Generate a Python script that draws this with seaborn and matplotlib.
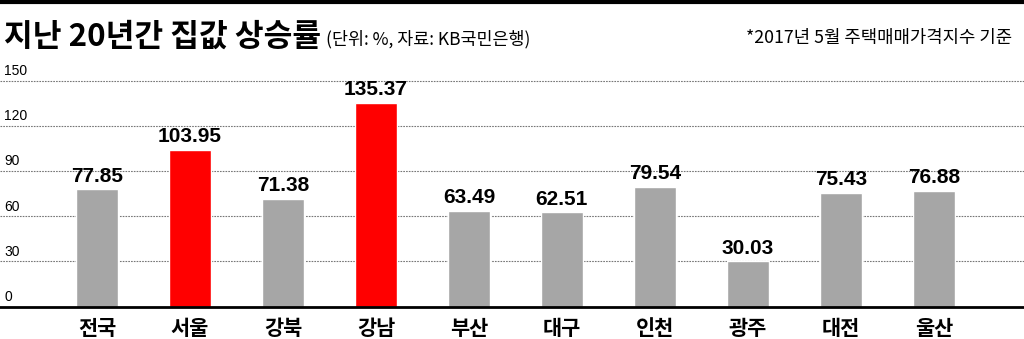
import matplotlib
matplotlib.use("Agg")
import matplotlib.pyplot as plt
import seaborn as sns
from matplotlib.lines import Line2D

categories = ["전국", "서울", "강북", "강남", "부산", "대구", "인천", "광주", "대전", "울산"]
values = [77.85, 103.95, 71.38, 135.37, 63.49, 62.51, 79.54, 30.03, 75.43, 76.88]
value_labels = ["77.85", "103.95", "71.38", "135.37", "63.49", "62.51", "79.54", "30.03", "75.43", "76.88"]
highlight = ["서울", "강남"]
yticks = [0, 30, 60, 90, 120, 150]

sns.set_theme(style="white")
KR = ["Noto Sans CJK KR", "DejaVu Sans"]
NUM = ["Liberation Sans Narrow", "Liberation Sans", "DejaVu Sans"]
plt.rcParams["font.family"] = KR

GRAY = "#a6a6a6"
RED = "#ff0000"
palette = {c: (RED if c in highlight else GRAY) for c in categories}

fig = plt.figure(figsize=(10.24, 3.39), dpi=100)
ax = fig.add_axes([0.0, 1 - 306.7 / 339, 1.0, 306.7 / 339 - 58 / 339])

sns.barplot(x=categories, y=values, hue=categories, palette=palette, legend=False,
            width=0.45, saturation=1, ax=ax, zorder=3)

ax.set_xlim(-1.043, 9.97)
ax.set_ylim(0, 165)
ax.set_xlabel("")
ax.set_ylabel("")
ax.set_yticks([])
for s in ["top", "left", "right"]:
    ax.spines[s].set_visible(False)
ax.spines["bottom"].set_color("black")
ax.spines["bottom"].set_linewidth(2)
ax.spines["bottom"].set_zorder(5)

for t in yticks:
    if t > 0:
        ax.axhline(t, color="#777777", lw=0.8, ls=(0, (1.5, 1.0)), zorder=1)
    ax.text(0.004, t + 1.8, str(t), transform=ax.get_yaxis_transform(),
            ha="left", va="bottom", fontsize=10, family=NUM, color="black")

ax.tick_params(axis="x", length=0, pad=8)
ax.set_xticks(range(len(categories)))
ax.set_xticklabels(categories, fontsize=15, fontweight="bold", color="black")

for i, (v, lab) in enumerate(zip(values, value_labels)):
    ax.text(i, v + 2.5, lab, ha="center", va="bottom", fontsize=15,
            fontweight="bold", family=NUM, color="black")

fig.add_artist(Line2D([0, 1], [1 - 2 / 339, 1 - 2 / 339], color="black", lw=3,
                      transform=fig.transFigure))
fig.text(4 / 1024, 1 - 46 / 339, "지난 20년간 집값 상승률", fontsize=22.5,
         fontweight="black", ha="left", va="baseline", color="black")
fig.text(326 / 1024, 1 - 44 / 339, "(단위: %, 자료: KB국민은행)", fontsize=12.5,
         ha="left", va="baseline", color="black")
fig.text(1012 / 1024, 1 - 43 / 339, "*2017년 5월 주택매매가격지수 기준", fontsize=12.8,
         ha="right", va="baseline", color="black")

fig.savefig("out.png", dpi=100)
